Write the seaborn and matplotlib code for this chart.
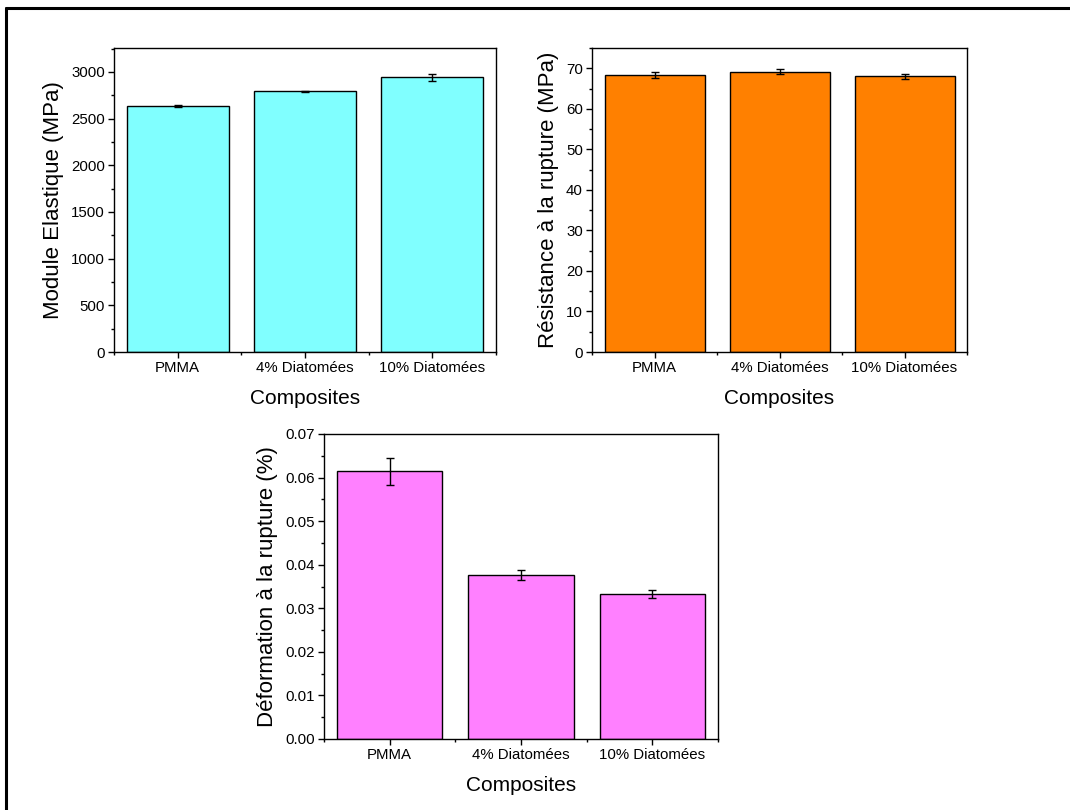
import numpy as np
import pandas as pd
import matplotlib
matplotlib.use("Agg")
import matplotlib.pyplot as plt
from matplotlib.lines import Line2D
from matplotlib.ticker import MultipleLocator, FormatStrFormatter
import seaborn as sns

# ---------------- data ----------------
categories = ["PMMA", "4% Diatomées", "10% Diatomées"]

module_vals = [2638, 2792, 2942]
module_err = [12, 8, 40]

resist_vals = [68.3, 69.1, 68.0]
resist_err = [0.8, 0.6, 0.7]

deform_vals = [0.0614, 0.0377, 0.0333]
deform_err = [0.0031, 0.0012, 0.0009]

colors = ["#80FFFF", "#FF8000", "#FF80FF"]
ylabels = ["Module Elastique (MPa)", "Résistance à la rupture (MPa)",
           "Déformation à la rupture (%)"]
xlabel = "Composites"

sns.set_theme(style="white")
plt.rcParams["font.family"] = ["Liberation Sans", "DejaVu Sans"]

fig = plt.figure(figsize=(10.7, 8.1), dpi=100)
W, H = 1070, 810


def px_axes(x0, y0, x1, y1):
    return fig.add_axes([x0 / W, (H - y1) / H, (x1 - x0) / W, (y1 - y0) / H])


ax1 = px_axes(114, 48, 496, 352)
ax2 = px_axes(592, 48, 967, 352)
ax3 = px_axes(324, 434, 718, 739)

panels = [
    (ax1, module_vals, module_err, colors[0], ylabels[0], 3257, 500, 250, "%d"),
    (ax2, resist_vals, resist_err, colors[1], ylabels[1], 75, 10, 5, "%d"),
    (ax3, deform_vals, deform_err, colors[2], ylabels[2], 0.07, 0.01, 0.005, "%.2f"),
]

for ax, vals, errs, col, ylab, ymax, major, minor, fmt in panels:
    df = pd.DataFrame({"cat": categories, "val": vals})
    sns.barplot(data=df, x="cat", y="val", ax=ax, color=col, saturation=1,
                width=0.8, edgecolor="black", linewidth=1.0, errorbar=None)
    ax.errorbar(np.arange(len(categories)), vals, yerr=errs, fmt="none",
                ecolor="black", elinewidth=1.0, capsize=3, capthick=1.0)
    ax.set_xlim(-0.5, len(categories) - 0.5)
    ax.set_ylim(0, ymax)
    ax.yaxis.set_major_locator(MultipleLocator(major))
    ax.yaxis.set_minor_locator(MultipleLocator(minor))
    ax.yaxis.set_major_formatter(FormatStrFormatter(fmt))
    ax.set_xticks(np.arange(len(categories)))
    ax.set_xticklabels(categories)
    ax.set_xticks(np.arange(len(categories) + 1) - 0.5, minor=True)
    ax.tick_params(axis="both", which="major", direction="out", length=4.5,
                   width=1, color="black", labelsize=10.8, pad=2,
                   left=True, bottom=True, labelcolor="black")
    ax.tick_params(axis="both", which="minor", direction="out", length=2.5,
                   width=1, color="black", left=True, bottom=True)
    for s in ax.spines.values():
        s.set_visible(True)
        s.set_color("black")
        s.set_linewidth(1.0)
    ax.set_xlabel(xlabel, fontsize=15, labelpad=10, color="black")
    ax.set_ylabel(ylab, fontsize=16, labelpad=5, color="black")

# figure frame (top and left visible)
fig.add_artist(Line2D([6 / W, 1.0], [1 - 8 / H, 1 - 8 / H], color="black",
                      linewidth=2.2, transform=fig.transFigure))
fig.add_artist(Line2D([6 / W, 6 / W], [0, 1 - 8 / H], color="black",
                      linewidth=2.2, transform=fig.transFigure))

fig.savefig("out.png", dpi=100, facecolor="white")
